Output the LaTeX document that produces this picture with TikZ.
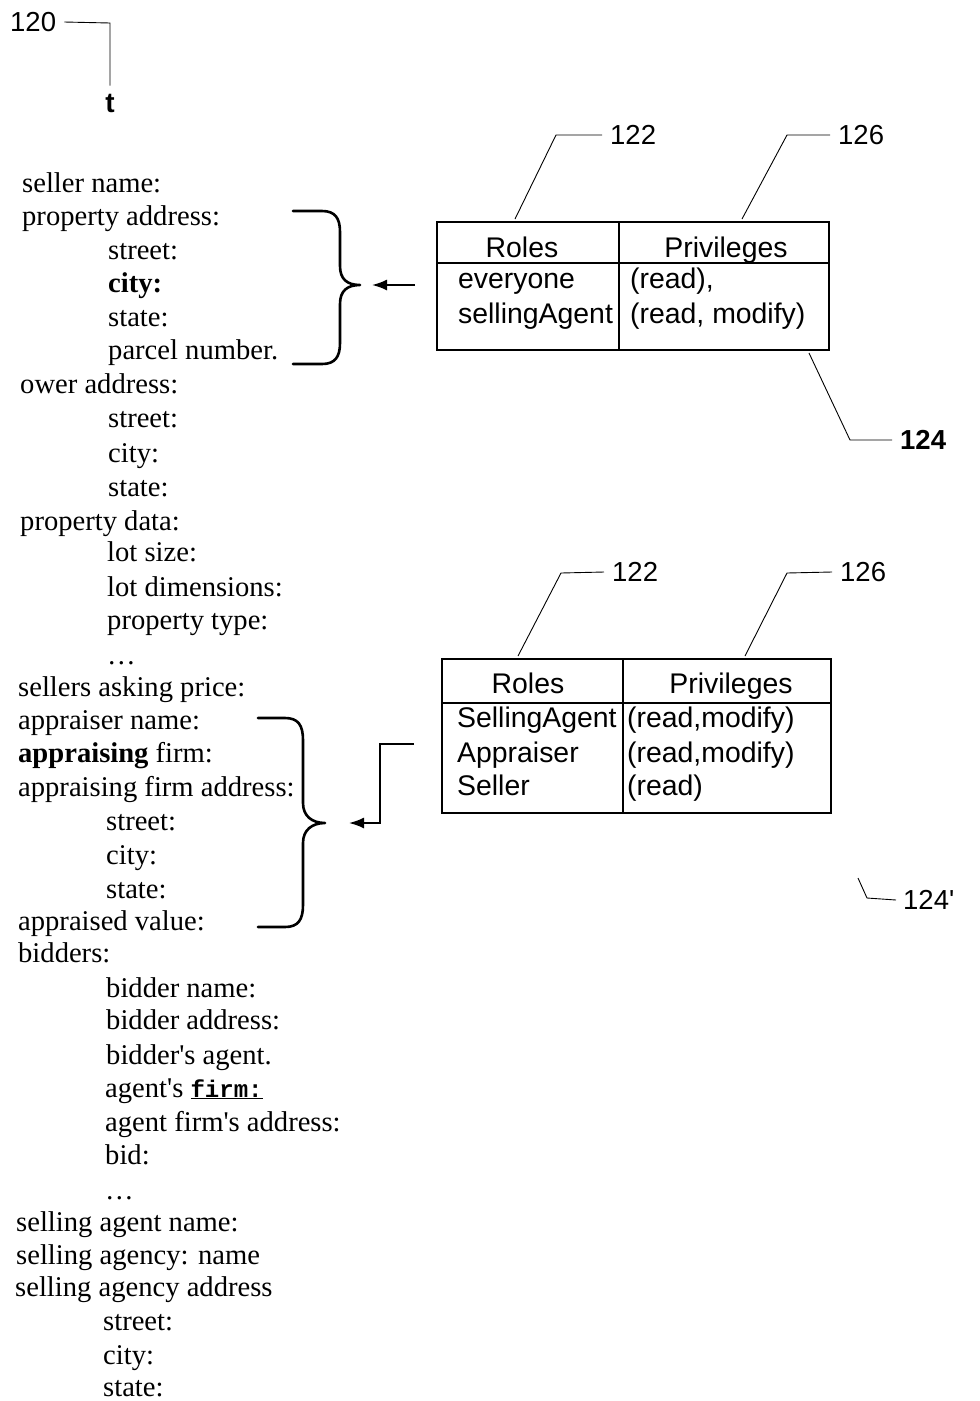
\documentclass[tikz,border=0pt]{standalone}
\usepackage{fontspec}
\setmainfont{Liberation Serif}
\setsansfont{Liberation Sans}
\setmonofont{Liberation Mono}
\usetikzlibrary{arrows.meta}
\begin{document}
\begin{tikzpicture}[x=1pt,y=-1pt,
  txt/.style={anchor=base west,inner sep=0pt,font=\fontsize{28.6}{30}\selectfont},
  lbl/.style={anchor=west,inner sep=0pt,font=\sffamily\fontsize{27.5}{30}\selectfont},
  cell/.style={anchor=base west,inner sep=0pt,font=\sffamily\fontsize{28.4}{30}\selectfont},
  hdr/.style={anchor=base,inner sep=0pt,font=\sffamily\fontsize{28.4}{30}\selectfont},
  leader/.style={line width=0.9pt},
  tbl/.style={line width=2pt},
  brace/.style={line width=2.6pt,line cap=round,line join=round},
  arr/.style={line width=1.8pt,-{Latex[length=15pt,width=11pt]}}]
\useasboundingbox (0,0) rectangle (980,1401);

% ---- label 120 and t
\node[lbl] (L120) at (10,22) {120};
\node[anchor=base,inner sep=0pt,font=\sffamily\bfseries\fontsize{28}{30}\selectfont] (tt) at (110,112) {t};
\draw[leader] ([xshift=8pt]L120.east) -- (110,23) -- ([yshift=8pt]tt.north);

% ---- list
\node[txt] (l1)  at (22,192)  {seller name:};
\node[txt] (l2)  at (22,225)  {property address:};
\node[txt] (l3)  at (108,259) {street:};
\node[txt] (l4)  at (108,292) {\bfseries city:};
\node[txt] (l5)  at (108,326) {state:};
\node[txt] (l6)  at (108,359) {parcel number.};
\node[txt] (l7)  at (20,393)  {ower address:};
\node[txt] (l8)  at (108,427) {street:};
\node[txt] (l9)  at (108,462) {city:};
\node[txt] (l10) at (108,496) {state:};
\node[txt] (l11) at (20,530)  {property data:};
\node[txt] (l12) at (107,561) {lot size:};
\node[txt] (l13) at (107,596) {lot dimensions:};
\node[txt] (l14) at (107,629) {property type:};
\node[txt] (l15) at (107,664) {…};
\node[txt] (l16) at (18,696)  {sellers asking price:};
\node[txt] (l17) at (18,729)  {appraiser name:};
\node[txt] (l18) at (18,762)  {\textbf{appraising} firm:};
\node[txt] (l19) at (18,796)  {appraising firm address:};
\node[txt] (l20) at (106,830) {street:};
\node[txt] (l21) at (106,864) {city:};
\node[txt] (l22) at (106,898) {state:};
\node[txt] (l23) at (18,930)  {appraised value:};
\node[txt] (l24) at (18,962)  {bidders:};
\node[txt] (l25) at (106,997) {bidder name:};
\node[txt] (l26) at (106,1029) {bidder address:};
\node[txt] (l27) at (106,1064) {bidder\textquotesingle s agent.};
\node[txt] (l28) at (105,1097) {agent\textquotesingle s \underline{\ttfamily\bfseries\fontsize{24}{28}\selectfont firm:}};
\node[txt] (l29) at (105,1131) {agent firm\textquotesingle s address:};
\node[txt] (l30) at (105,1164) {bid:};
\node[txt] (l31) at (105,1199) {…};
\node[txt] (l32) at (16,1231) {selling agent name:};
\node[txt] (l33) at (16,1264) {selling agency: name};
\node[txt] (l34) at (15,1296) {selling agency address};
\node[txt] (l35) at (103,1330) {street:};
\node[txt] (l36) at (103,1364) {city:};
\node[txt] (l37) at (103,1396) {state:};

% ---- braces
\coordinate (B1) at (360,285);
\draw[brace] (293,211) -- (322,211) .. controls (335,211) and (340,218) .. (340,232)
  -- (340,266) .. controls (340,279) and (347,285) .. (B1)
  .. controls (347,285) and (340,291) .. (340,304)
  -- (340,343) .. controls (340,357) and (335,364) .. (322,364) -- (293,364);
\coordinate (B2) at (325,823);
\draw[brace] (258,718) -- (285,718) .. controls (298,718) and (303,725) .. (303,740)
  -- (303,803) .. controls (303,816) and (312,823) .. (B2)
  .. controls (312,823) and (303,830) .. (303,843)
  -- (303,905) .. controls (303,920) and (298,927) .. (285,927) -- (258,927);

% ---- table 1
\node[draw,tbl,minimum width=392pt,minimum height=128pt,inner sep=0pt,anchor=north west] (T1) at (436,221) {};
\draw[tbl] (619,221) -- (619,349);
\draw[tbl] (436,263) -- (828,263);
\node[hdr] (h1a) at (522,257) {Roles};
\node[hdr] (h1b) at (726,257) {Privileges};
\node[cell] (r1a) at (458,288) {everyone};
\node[cell] (r1b) at (458,323) {sellingAgent};
\node[cell] (p1a) at (630,288) {(read),};
\node[cell] (p1b) at (630,323) {(read, modify)};

% ---- table 2
\node[draw,tbl,minimum width=389pt,minimum height=154pt,inner sep=0pt,anchor=north west] (T2) at (441,658) {};
\draw[tbl] (623,658) -- (623,812);
\draw[tbl] (441,703) -- (830,703);
\node[hdr] (h2a) at (528,693) {Roles};
\node[hdr] (h2b) at (731,693) {Privileges};
\node[cell] (r2a) at (457,727) {SellingAgent};
\node[cell] (r2b) at (457,762) {Appraiser};
\node[cell] (r2c) at (457,795) {Seller};
\node[cell] (p2a) at (627,727) {(read,modify)};
\node[cell] (p2b) at (627,762) {(read,modify)};
\node[cell] (p2c) at (627,795) {(read)};

% ---- reference labels, table 1
\node[lbl] (L122a) at (610,135) {122};
\node[lbl] (L126a) at (838,135) {126};
\node[lbl,font=\sffamily\bfseries\fontsize{27.5}{30}\selectfont] (L124) at (900,440) {124};
\draw[leader] (515,219) -- (556,135) -- ([xshift=-8pt]L122a.west);
\draw[leader] (742,219) -- (787,135) -- ([xshift=-8pt]L126a.west);
\draw[leader] (809,353) -- (850,440) -- ([xshift=-8pt]L124.west);

% ---- reference labels, table 2
\node[lbl] (L122b) at (612,572) {122};
\node[lbl] (L126b) at (840,572) {126};
\node[lbl] (L124b) at (903,900) {124\textquotesingle};
\draw[leader] (518,656) -- (561,573) -- ([xshift=-8pt]L122b.west);
\draw[leader] (745,656) -- (787,573) -- ([xshift=-8pt]L126b.west);
\draw[leader] (858,878) -- (867,898) -- ([xshift=-7pt]L124b.west);

% ---- arrows
\coordinate (A1) at (415,285);
\draw[arr] (A1) -- ([xshift=12pt]B1);
\coordinate (A2) at (414,744);
\draw[arr] (A2) -- (380,744) -- (380,823) -- ([xshift=24pt]B2);
\end{tikzpicture}
\end{document}
